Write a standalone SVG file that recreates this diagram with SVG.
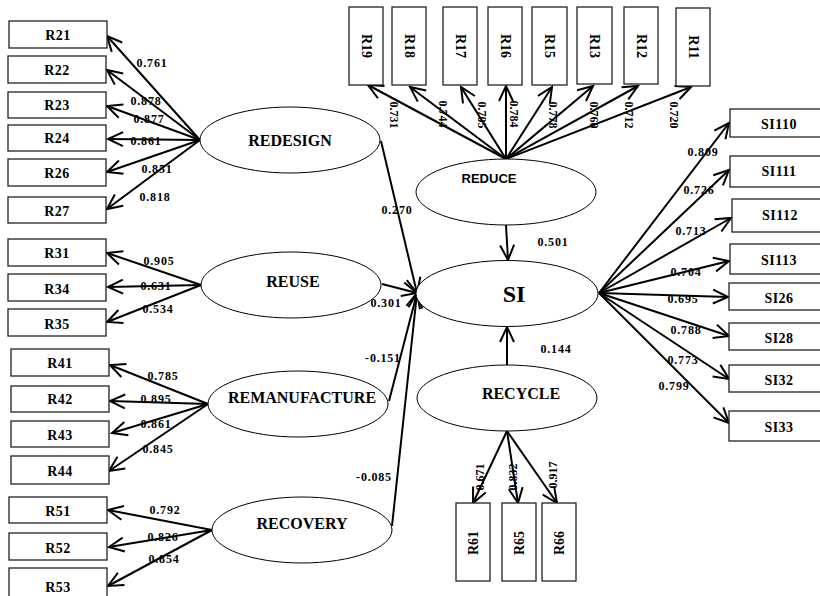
<svg xmlns="http://www.w3.org/2000/svg" width="820" height="596" viewBox="0 0 820 596">
<style>
.box{fill:#fff;stroke:#222;stroke-width:1.3}
.ell{fill:#fff;stroke:#000;stroke-width:1}
.bl{font-family:"Liberation Serif","Times New Roman",serif;font-weight:bold;font-size:14px;text-anchor:middle;fill:#000;letter-spacing:0.5px}
.el{font-family:"Liberation Serif","Times New Roman",serif;font-weight:bold;font-size:16px;text-anchor:middle;fill:#000}
.es{font-family:"Liberation Sans",Arial,sans-serif;font-weight:bold;font-size:13px;text-anchor:middle;fill:#000}
.v{font-family:"Liberation Serif","Times New Roman",serif;font-weight:bold;font-size:12px;text-anchor:middle;fill:#000;letter-spacing:0.8px}
.vr{font-family:"Liberation Serif","Times New Roman",serif;font-weight:bold;font-size:12px;text-anchor:middle;dominant-baseline:central;fill:#000}
.c line{stroke:#000;stroke-width:2;marker-end:url(#ah)}
</style>
<defs>
<marker id="ah" markerUnits="userSpaceOnUse" viewBox="-18 -10 20 20" refX="0" refY="0" markerWidth="20" markerHeight="20" orient="auto" overflow="visible">
<path d="M-15,-7 L0,0 L-15,7" fill="none" stroke="#000" stroke-width="2"/>
</marker>
</defs>

<!-- connectors -->
<g id="connectors" class="c">
<!-- REDESIGN -->
<line x1="200" y1="140" x2="107" y2="36"/>
<line x1="200" y1="140" x2="107" y2="70"/>
<line x1="200" y1="140" x2="107" y2="106"/>
<line x1="200" y1="140" x2="108" y2="139"/>
<line x1="200" y1="140" x2="107" y2="172"/>
<line x1="200" y1="140" x2="107" y2="209"/>
<!-- REUSE -->
<line x1="201" y1="285" x2="107" y2="253"/>
<line x1="201" y1="285" x2="108" y2="287"/>
<line x1="201" y1="285" x2="107" y2="322"/>
<!-- REMANUFACTURE -->
<line x1="208" y1="404" x2="110" y2="365"/>
<line x1="208" y1="404" x2="110" y2="401"/>
<line x1="208" y1="404" x2="112" y2="433"/>
<line x1="208" y1="404" x2="109" y2="471"/>
<!-- RECOVERY -->
<line x1="212" y1="530" x2="108" y2="510"/>
<line x1="212" y1="530" x2="109" y2="547"/>
<line x1="212" y1="530" x2="108" y2="586"/>
<!-- REDUCE -->
<line x1="506" y1="159" x2="368" y2="85"/>
<line x1="506" y1="159" x2="410" y2="87"/>
<line x1="506" y1="159" x2="461" y2="87"/>
<line x1="506" y1="159" x2="506" y2="86"/>
<line x1="506" y1="159" x2="552" y2="87"/>
<line x1="506" y1="159" x2="593" y2="86"/>
<line x1="506" y1="159" x2="638" y2="86"/>
<line x1="506" y1="159" x2="691" y2="87"/>
<!-- RECYCLE -->
<line x1="507" y1="431" x2="473" y2="503"/>
<line x1="507" y1="431" x2="518" y2="503"/>
<line x1="507" y1="431" x2="557" y2="503"/>
<!-- SI -->
<line x1="599" y1="293" x2="729" y2="123"/>
<line x1="599" y1="293" x2="729" y2="170"/>
<line x1="599" y1="293" x2="731" y2="218"/>
<line x1="599" y1="293" x2="729" y2="261"/>
<line x1="599" y1="293" x2="728" y2="297"/>
<line x1="599" y1="293" x2="729" y2="336"/>
<line x1="599" y1="293" x2="729" y2="379"/>
<line x1="599" y1="293" x2="729" y2="423"/>
<!-- structural -->
<line x1="381" y1="141" x2="417" y2="293"/>
<line x1="382" y1="284" x2="417" y2="293"/>
<line x1="389" y1="401" x2="417" y2="293"/>
<line x1="392" y1="526" x2="417" y2="293"/>
<line x1="506" y1="225" x2="508" y2="260"/>
<line x1="507" y1="366" x2="507" y2="327"/>
</g>

<!-- connector labels -->
<g id="labels">
<text class="v" x="152" y="67">0.761</text>
<text class="v" x="146" y="105">0.878</text>
<text class="v" x="149" y="123">0.877</text>
<text class="v" x="146" y="145">0.861</text>
<text class="v" x="157" y="173">0.851</text>
<text class="v" x="155" y="201">0.818</text>
<text class="v" x="159" y="265">0.905</text>
<text class="v" x="156" y="290">0.631</text>
<text class="v" x="158" y="313">0.534</text>
<text class="v" x="163" y="380">0.785</text>
<text class="v" x="156" y="403">0.895</text>
<text class="v" x="156" y="428">0.861</text>
<text class="v" x="158" y="453">0.845</text>
<text class="v" x="165" y="514">0.792</text>
<text class="v" x="163" y="541">0.826</text>
<text class="v" x="164" y="563">0.854</text>
<text class="v" x="397" y="214">0.270</text>
<text class="v" x="386" y="307">0.301</text>
<text class="v" x="383" y="362">-0.151</text>
<text class="v" x="374" y="481">-0.085</text>
<text class="v" x="553" y="246">0.501</text>
<text class="v" x="556" y="353">0.144</text>
<text class="v" x="703" y="156">0.809</text>
<text class="v" x="699" y="194">0.726</text>
<text class="v" x="691" y="235">0.713</text>
<text class="v" x="686" y="276">0.704</text>
<text class="v" x="683" y="303">0.695</text>
<text class="v" x="686" y="334">0.788</text>
<text class="v" x="683" y="364">0.773</text>
<text class="v" x="674" y="390">0.799</text>
<text class="vr" transform="translate(394,115) rotate(90)">0.731</text>
<text class="vr" transform="translate(443,114) rotate(90)">0.744</text>
<text class="vr" transform="translate(482,115) rotate(90)">0.705</text>
<text class="vr" transform="translate(514,114) rotate(90)">0.784</text>
<text class="vr" transform="translate(553,115) rotate(90)">0.778</text>
<text class="vr" transform="translate(594,115) rotate(90)">0.760</text>
<text class="vr" transform="translate(629,115) rotate(90)">0.712</text>
<text class="vr" transform="translate(674,115) rotate(90)">0.720</text>
<text class="vr" transform="translate(480,477) rotate(-90)">0.671</text>
<text class="vr" transform="translate(513,477) rotate(-90)">0.832</text>
<text class="vr" transform="translate(553,475) rotate(-90)">0.917</text>
</g>

<!-- latent nodes -->
<g id="REDESIGN"><ellipse class="ell" cx="290" cy="140" rx="90" ry="33"/><text class="el" x="290" y="146">REDESIGN</text></g>
<g id="REUSE"><ellipse class="ell" cx="291" cy="285" rx="90" ry="33"/><text class="el" x="293" y="287">REUSE</text></g>
<g id="REMANUFACTURE"><ellipse class="ell" cx="298" cy="404" rx="90" ry="33"/><text class="el" x="302" y="403">REMANUFACTURE</text></g>
<g id="RECOVERY"><ellipse class="ell" cx="302" cy="530" rx="90" ry="33"/><text class="el" x="302" y="529">RECOVERY</text></g>
<g id="REDUCE"><ellipse class="ell" cx="506" cy="192" rx="90" ry="33"/><text class="es" x="489" y="183">REDUCE</text></g>
<g id="SI"><ellipse class="ell" cx="507" cy="293.5" rx="91" ry="33"/><text class="el" x="514" y="302" style="font-size:24px">SI</text></g>
<g id="RECYCLE"><ellipse class="ell" cx="507" cy="398" rx="90" ry="33"/><text class="el" x="521" y="399">RECYCLE</text></g>

<!-- observed nodes: left -->
<g id="R21"><rect class="box" x="9" y="21" width="98" height="27"/><text class="bl" x="58" y="40">R21</text></g>
<g id="R22"><rect class="box" x="8" y="56" width="98" height="27"/><text class="bl" x="57" y="75">R22</text></g>
<g id="R23"><rect class="box" x="8" y="92" width="98" height="26"/><text class="bl" x="57" y="110">R23</text></g>
<g id="R24"><rect class="box" x="8" y="125" width="98" height="26"/><text class="bl" x="57" y="143">R24</text></g>
<g id="R26"><rect class="box" x="8" y="159" width="98" height="27"/><text class="bl" x="57" y="178">R26</text></g>
<g id="R27"><rect class="box" x="8" y="197" width="98" height="26"/><text class="bl" x="57" y="216">R27</text></g>
<g id="R31"><rect class="box" x="8" y="239" width="98" height="27"/><text class="bl" x="57" y="258">R31</text></g>
<g id="R34"><rect class="box" x="8" y="274" width="98" height="27"/><text class="bl" x="57" y="294">R34</text></g>
<g id="R35"><rect class="box" x="8" y="309" width="98" height="27"/><text class="bl" x="57" y="329">R35</text></g>
<g id="R41"><rect class="box" x="11" y="349" width="98" height="27"/><text class="bl" x="60" y="368">R41</text></g>
<g id="R42"><rect class="box" x="11" y="386" width="98" height="26"/><text class="bl" x="60" y="404">R42</text></g>
<g id="R43"><rect class="box" x="11" y="421" width="98" height="26"/><text class="bl" x="60" y="440">R43</text></g>
<g id="R44"><rect class="box" x="11" y="456" width="98" height="28"/><text class="bl" x="60" y="476">R44</text></g>
<g id="R51"><rect class="box" x="9" y="497" width="98" height="26"/><text class="bl" x="58" y="516">R51</text></g>
<g id="R52"><rect class="box" x="9" y="533" width="98" height="27"/><text class="bl" x="58" y="553">R52</text></g>
<g id="R53"><rect class="box" x="9" y="568" width="98" height="29"/><text class="bl" x="58" y="592">R53</text></g>

<!-- observed nodes: top -->
<g id="R19"><rect class="box" x="349" y="7" width="34" height="78"/><text class="vr" style="font-size:14px" transform="translate(366,46) rotate(90)">R19</text></g>
<g id="R18"><rect class="box" x="392" y="7" width="34" height="78"/><text class="vr" style="font-size:14px" transform="translate(409,46) rotate(90)">R18</text></g>
<g id="R17"><rect class="box" x="443" y="7" width="34" height="78"/><text class="vr" style="font-size:14px" transform="translate(460,46) rotate(90)">R17</text></g>
<g id="R16"><rect class="box" x="488" y="7" width="34" height="78"/><text class="vr" style="font-size:14px" transform="translate(505,46) rotate(90)">R16</text></g>
<g id="R15"><rect class="box" x="532" y="7" width="35" height="78"/><text class="vr" style="font-size:14px" transform="translate(549.5,46) rotate(90)">R15</text></g>
<g id="R13"><rect class="box" x="577" y="7" width="35" height="77"/><text class="vr" style="font-size:14px" transform="translate(594.5,46) rotate(90)">R13</text></g>
<g id="R12"><rect class="box" x="624" y="7" width="34" height="77"/><text class="vr" style="font-size:14px" transform="translate(641,46) rotate(90)">R12</text></g>
<g id="R11"><rect class="box" x="676" y="8" width="34" height="78"/><text class="vr" style="font-size:14px" transform="translate(693,47) rotate(90)">R11</text></g>

<!-- observed nodes: right -->
<g id="SI110"><rect class="box" x="730" y="109" width="100" height="28"/><text class="bl" x="779" y="129">SI110</text></g>
<g id="SI111"><rect class="box" x="730" y="156" width="100" height="31"/><text class="bl" x="779" y="176">SI111</text></g>
<g id="SI112"><rect class="box" x="732" y="199" width="100" height="33"/><text class="bl" x="780" y="220">SI112</text></g>
<g id="SI113"><rect class="box" x="730" y="244" width="100" height="30"/><text class="bl" x="779" y="265">SI113</text></g>
<g id="SI26"><rect class="box" x="729" y="283" width="100" height="27"/><text class="bl" x="779" y="303">SI26</text></g>
<g id="SI28"><rect class="box" x="729" y="323" width="100" height="27"/><text class="bl" x="779" y="343">SI28</text></g>
<g id="SI32"><rect class="box" x="729" y="365" width="100" height="27"/><text class="bl" x="779" y="385">SI32</text></g>
<g id="SI33"><rect class="box" x="729" y="411" width="100" height="30"/><text class="bl" x="779" y="432">SI33</text></g>

<!-- observed nodes: bottom -->
<g id="R61"><rect class="box" x="456" y="503" width="34" height="78"/><text class="vr" style="font-size:14px" transform="translate(473,543) rotate(-90)">R61</text></g>
<g id="R65"><rect class="box" x="502" y="503" width="34" height="78"/><text class="vr" style="font-size:14px" transform="translate(519,543) rotate(-90)">R65</text></g>
<g id="R66"><rect class="box" x="542" y="503" width="34" height="78"/><text class="vr" style="font-size:14px" transform="translate(559,543) rotate(-90)">R66</text></g>
</svg>
